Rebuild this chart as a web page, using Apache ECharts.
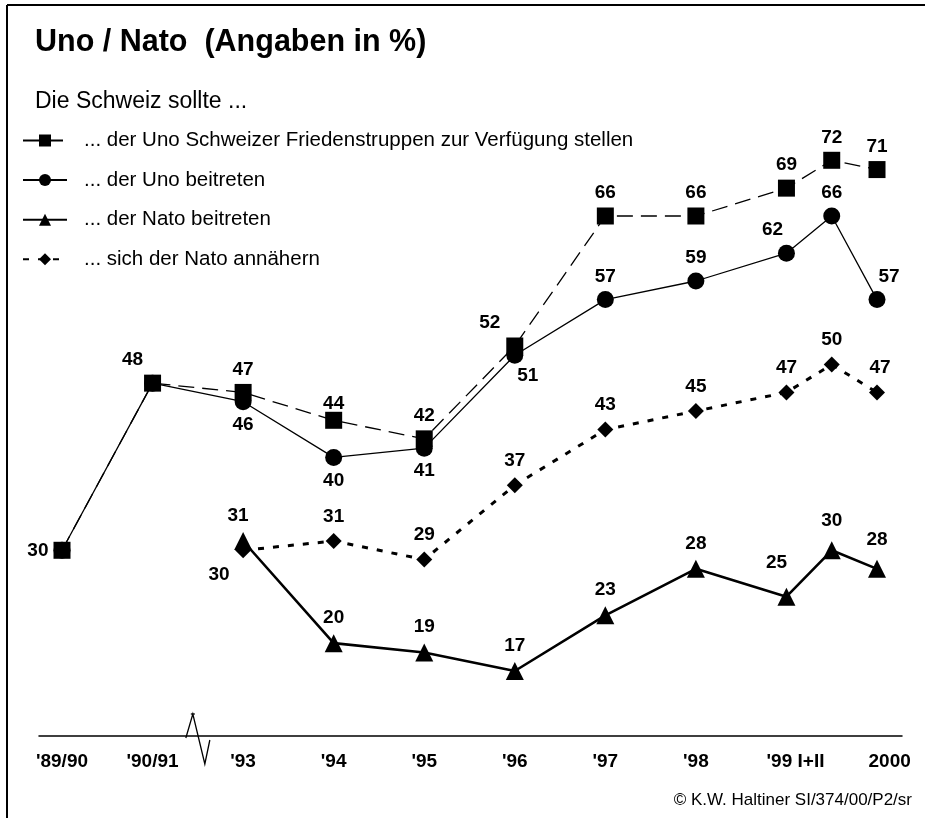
<!DOCTYPE html>
<html>
<head>
<meta charset="utf-8">
<script src="https://cdn.jsdelivr.net/npm/echarts@6/dist/echarts.min.js"></script>
<style>
html,body{margin:0;padding:0;background:#fff;}
#c{width:925px;height:818px;}
</style>
</head>
<body>
<div id="c"></div>
<script>
// ---- data ----
const xLabels = ["'89/90", "'90/91", "'93", "'94", "'95", "'96", "'97", "'98", "'99 I+II", "2000"];
const xLabelPos = [0, 1, 2, 3, 4, 5, 6, 7, 8.1, 9.14];
const xPos = [0, 1, 2, 3, 4, 5, 6, 7, 8, 8.5, 9]; // '89/90 ... '99 I, '99 II, 2000
const friedenstruppen = [30, 48, 47, 44, 42, 52, 66, 66, 69, 72, 71];
const unoBeitreten = [30, 48, 46, 40, 41, 51, 57, 59, 62, 66, 57];
const natoBeitreten = [null, null, 31, 20, 19, 17, 23, 28, 25, 30, 28];
const natoAnnaehern = [null, null, 30, 31, 29, 37, 43, 45, 47, 50, 47];
const seriesNames = [
  '... der Uno Schweizer Friedenstruppen zur Verfügung stellen',
  '... der Uno beitreten',
  '... der Nato beitreten',
  '... sich der Nato annähern'
];

// ---- label placement (style only) ----
const T = {position: 'top'}, B = {position: 'bottom'}, N = null;
const sqLab = [{position: 'left'}, {position: 'top', offset: [-20, 0]}, T, {position: 'top', offset: [0, 6]}, T, {position: 'top', offset: [-25, 0]}, T, T, T, T, T];
const ciLab = [N, N, B, B, B, {position: 'bottom', offset: [13, -3]}, T, T, {position: 'top', offset: [-14, 0]}, T, {position: 'top', offset: [12, 0]}];
const trLab = [N, N, {position: 'top', offset: [-5, 0]}, T, T, T, T, T, {position: 'top', offset: [-10, -8]}, {position: 'top', offset: [0, -4]}, {position: 'top', offset: [0, -4]}];
const diLab = [N, N, {position: 'bottom', offset: [-24, 0]}, T, T, T, T, T, T, T, {position: 'top', offset: [3, 0]}];

const FONT = '"Liberation Sans", Arial, Helvetica, sans-serif';

function build(vals, labs, dist) {
  const out = [];
  vals.forEach((v, i) => {
    if (v === null) return;
    const l = labs[i];
    out.push({
      value: [xPos[i], v],
      label: l ? Object.assign({show: true, distance: dist}, l) : {show: false}
    });
  });
  return out;
}

const labelStyle = {
  color: '#000', fontFamily: FONT, fontWeight: 'bold', fontSize: 19,
  formatter: p => p.value[1]
};

const chart = echarts.init(document.getElementById('c'), null, {renderer: 'canvas'});
const option = {
  backgroundColor: '#fff',
  animation: false,
  textStyle: {fontFamily: FONT, color: '#000'},
  title: [
    {text: 'Uno / Nato  (Angaben in %)', left: 35, top: 27, padding: 0,
     textStyle: {fontFamily: FONT, fontSize: 30.5, fontWeight: 'bold', color: '#000'}},
    {text: 'Die Schweiz sollte ...', left: 35, top: 90, padding: 0,
     textStyle: {fontFamily: FONT, fontSize: 23, fontWeight: 'normal', color: '#000'}},
    {text: '© K.W. Haltiner SI/374/00/P2/sr', right: 13, top: 792, padding: 0,
     textStyle: {fontFamily: FONT, fontSize: 17, fontWeight: 'normal', color: '#000'}}
  ],
  legend: {
    orient: 'vertical', left: 22, top: 130, padding: 0,
    itemWidth: 44, itemHeight: 15, itemGap: 18.6,
    data: seriesNames,
    textStyle: {fontFamily: FONT, fontSize: 20.5, color: '#000', lineHeight: 20, padding: [0, 0, 0, 12]}
  },
  grid: {left: 39, right: 23, top: 86, bottom: 82, containLabel: false},
  xAxis: {
    type: 'value', min: -0.254, max: 9.276,
    axisLine: {show: true, lineStyle: {color: '#000', width: 1.5}},
    axisTick: {show: false},
    splitLine: {show: false},
    axisLabel: {
      show: true, customValues: xLabelPos, margin: 16,
      fontFamily: FONT, fontWeight: 'bold', fontSize: 19, color: '#000',
      formatter: v => {
        const i = xLabelPos.findIndex(p => Math.abs(p - v) < 1e-6);
        return i >= 0 ? xLabels[i] : '';
      }
    }
  },
  yAxis: {type: 'value', min: 10, max: 80, show: false, splitLine: {show: false}},
  series: [
    {
      name: seriesNames[0], type: 'line', z: 4,
      symbol: 'rect', symbolSize: 17,
      itemStyle: {color: '#000'},
      lineStyle: {color: '#000', width: 1.3, type: [16, 8]},
      label: Object.assign({distance: 5}, labelStyle),
      data: build(friedenstruppen, sqLab, 5)
    },
    {
      name: seriesNames[1], type: 'line', z: 3,
      symbol: 'circle', symbolSize: 17,
      itemStyle: {color: '#000'},
      lineStyle: {color: '#000', width: 1.3, type: 'solid'},
      label: Object.assign({distance: 5}, labelStyle),
      data: build(unoBeitreten, ciLab, 5)
    },
    {
      name: seriesNames[2], type: 'line', z: 6,
      symbol: 'triangle', symbolSize: 18,
      itemStyle: {color: '#000'},
      lineStyle: {color: '#000', width: 2.6, type: 'solid'},
      label: Object.assign({distance: 7}, labelStyle),
      data: build(natoBeitreten, trLab, 7)
    },
    {
      name: seriesNames[3], type: 'line', z: 5,
      symbol: 'diamond', symbolSize: 16,
      itemStyle: {color: '#000'},
      lineStyle: {color: '#000', width: 3, type: [6, 9]},
      label: Object.assign({distance: 7}, labelStyle),
      data: build(natoAnnaehern, diLab, 7)
    }
  ]
};
chart.setOption(option);

// axis break zigzag and frame (decorations)
const base = chart.convertToPixel({gridIndex: 0}, [1.5, 10]);
const bx = base[0], by = base[1];
chart.setOption({
  graphic: [
    {type: 'polyline', z: 10, shape: {points: [[bx - 12, by + 2], [bx - 5, by - 22], [bx + 7, by + 28], [bx + 12, by + 4]]},
     style: {stroke: '#000', lineWidth: 1.3, fill: null}},
    {type: 'line', z: 10, shape: {x1: bx - 7, y1: by - 22, x2: bx - 3, y2: by - 22}, style: {stroke: '#000', lineWidth: 1.3}},
    {type: 'line', z: 10, shape: {x1: 7, y1: 5, x2: 925, y2: 5}, style: {stroke: '#000', lineWidth: 2}},
    {type: 'line', z: 10, shape: {x1: 7, y1: 5, x2: 7, y2: 818}, style: {stroke: '#000', lineWidth: 2}}
  ]
});
</script>
</body>
</html>
